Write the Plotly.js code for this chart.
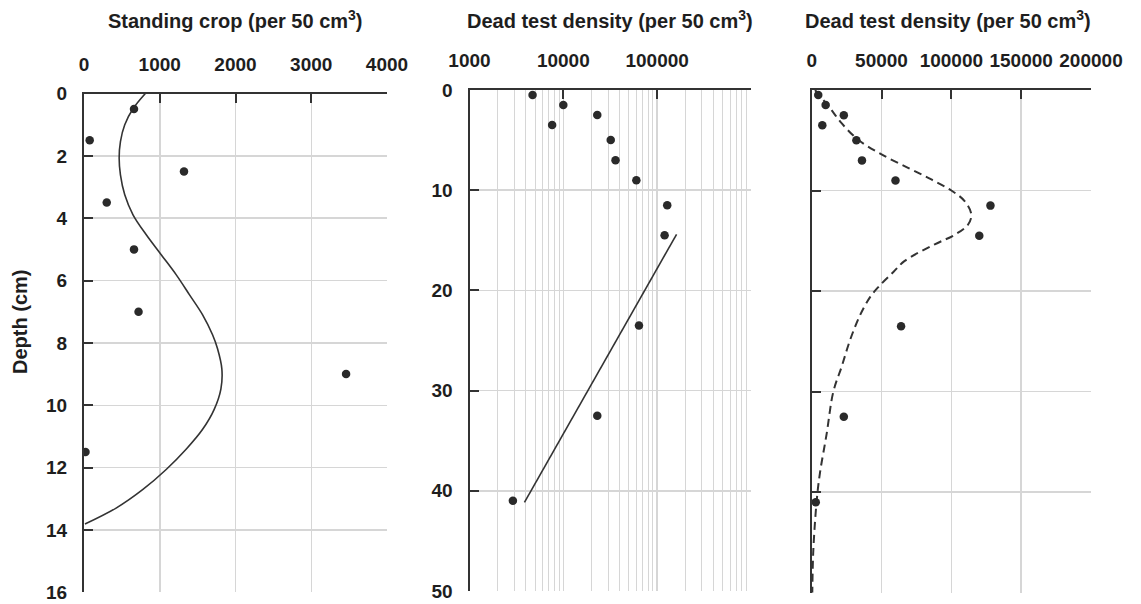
<!DOCTYPE html>
<html>
<head>
<meta charset="utf-8">
<script src="https://cdn.plot.ly/plotly-3.0.1.min.js"></script>
<style>html,body{margin:0;padding:0;background:#fff;}#chart{width:1141px;height:604px;}</style>
</head>
<body>
<div id="chart"></div>
<script>
// Standing crop (panel 1)
const cropDepth = [0.5, 1.5, 2.5, 3.5, 5, 7, 9, 11.5];
const cropValue = [660, 75, 1320, 300, 660, 720, 3460, 20];
// fitted curve for standing crop
const cropFitDepth = [0, 0.49, 1.0, 1.54, 2.07, 2.61, 3.25, 3.89, 4.53, 5.17, 5.81, 6.45, 7.1, 7.74, 8.19, 8.84, 9.48, 10.13, 10.77, 11.41, 12.06, 12.7, 13.29, 13.81];
const cropFitValue = [810, 647, 538, 481, 464, 481, 538, 647, 822, 1019, 1216, 1391, 1566, 1697, 1763, 1820, 1807, 1719, 1566, 1348, 1085, 778, 429, 13];

// Dead test density (panels 2 and 3)
const deadDepth = [0.5, 1.5, 2.5, 3.5, 5, 7, 9, 11.5, 14.5, 23.5, 32.5, 41];
const deadValue = [4700, 10000, 23000, 7600, 32000, 36000, 60000, 128000, 120000, 64000, 23000, 2900];
// log-linear fit (panel 2)
const logFitDepth = [41.15, 14.4];
const logFitValue = [3850, 161000];
// dashed fit (panel 3)
const dashFitDepth = [0, 1.8, 3.3, 4.95, 6.4, 7.75, 8.9, 10, 11.05, 12.4, 13.4, 14.4, 15.35, 17.0, 18.1, 19.6, 20.6, 22.4, 24.9, 27.5, 30.0, 34.2, 38.1, 40.8, 45.8, 50];
const dashFitValue = [2400, 13100, 21400, 33300, 50000, 69000, 85700, 100000, 109500, 114300, 111900, 102400, 88100, 66600, 58500, 47700, 41800, 34600, 27400, 21500, 15500, 10700, 5900, 3600, 1150, 430];

// tick labels
const x1Ticks = [0, 1000, 2000, 3000, 4000];
const x2Ticks = [1000, 10000, 100000, 1000000];
const x2Text = ['1000', '10000', '100000', ' '];
const x3Ticks = [0, 50000, 100000, 150000, 200000];
const x3Text = ['0', '50000', '100000', '150000', '200000'];

const titles = ['Standing crop (per 50 cm<sup>3</sup>)', 'Dead test density (per 50 cm<sup>3</sup>)', 'Dead test density (per 50 cm<sup>3</sup>)'];
const yTitle = 'Depth (cm)';

const W = 1141, H = 604;
const FONT = 'Liberation Sans, Arial, sans-serif';
const TXT = '#1e1e1e';
const AX = '#333333';
const GRID = '#d6d6d6';
const MK = '#2a2a2a';

function px(x) { return x / W; }
function py(y) { return 1 - y / H; }

const marker = {color: MK, size: 8.5};
const traces = [
  {x: cropFitValue, y: cropFitDepth, mode: 'lines', line: {color: AX, width: 1.6, shape: 'spline', smoothing: 1}, xaxis: 'x', yaxis: 'y', hoverinfo: 'skip'},
  {x: cropValue, y: cropDepth, mode: 'markers', marker: marker, xaxis: 'x', yaxis: 'y'},
  {x: logFitValue, y: logFitDepth, mode: 'lines', line: {color: AX, width: 1.6}, xaxis: 'x2', yaxis: 'y2'},
  {x: deadValue, y: deadDepth, mode: 'markers', marker: marker, xaxis: 'x2', yaxis: 'y2'},
  {x: dashFitValue, y: dashFitDepth, mode: 'lines', line: {color: AX, width: 2, dash: '8px,5px', shape: 'spline', smoothing: 1}, xaxis: 'x3', yaxis: 'y3'},
  {x: deadValue, y: deadDepth, mode: 'markers', marker: marker, xaxis: 'x3', yaxis: 'y3'}
];

const tickFont = {family: FONT, size: 19, color: TXT, weight: 'bold'};
function xaxisBase(domain, anchor) {
  return {
    domain: domain, anchor: anchor, side: 'top',
    showline: true, linecolor: AX, linewidth: 2, mirror: false,
    showgrid: true, gridcolor: GRID, gridwidth: 1.5, zeroline: false,
    ticks: 'inside', ticklen: 9, tickwidth: 2, tickcolor: AX,
    tickfont: tickFont, ticklabelstandoff: 13, fixedrange: true
  };
}
function yaxisBase(domain, anchor, range, dtick, labels) {
  return {
    domain: domain, anchor: anchor, range: range, autorange: false,
    showline: true, linecolor: AX, linewidth: 2, mirror: false,
    showgrid: true, gridcolor: GRID, gridwidth: 1.5, zeroline: false,
    ticks: 'inside', ticklen: 9, tickwidth: 2, tickcolor: AX,
    tick0: 0, dtick: dtick, showticklabels: labels,
    tickfont: tickFont, ticklabelstandoff: 11, fixedrange: true
  };
}

// minor log gridlines for panel 2
const minorVals = [];
for (let d = 1000; d < 1000000; d *= 10) {
  for (let k = 2; k <= 9; k++) minorVals.push(k * d);
}

const x1 = Object.assign(xaxisBase([px(84), px(387)], 'y'), {range: [0, 4000], tickvals: x1Ticks});
const x2 = Object.assign(xaxisBase([px(469.5), px(751)], 'y2'), {
  type: 'log', range: [3, 6],
  tickvals: x2Ticks, ticktext: x2Text,
  minor: {tickvals: minorVals, showgrid: true, gridcolor: GRID, gridwidth: 1, ticks: ''}
});
const x3 = Object.assign(xaxisBase([px(811.7), px(1091)], 'y3'), {range: [0, 200000], tickvals: x3Ticks, ticktext: x3Text});

const y1 = yaxisBase([1 - 592.3 / H, 1 - 93.5 / H], 'x', [16, 0], 2, true);
const y2 = yaxisBase([1 - 591 / H, 1 - 90 / H], 'x2', [50, 0], 10, true);
const y3 = yaxisBase([1 - 592.7 / H, 1 - 90 / H], 'x3', [50, 0], 10, false);

const titleCenters = [236, 610, 948];
const annotations = titles.map((t, i) => ({
  text: t, xref: 'paper', yref: 'paper', x: px(titleCenters[i]), y: py(20),
  xanchor: 'center', yanchor: 'middle', showarrow: false,
  font: {family: FONT, size: 20, color: TXT, weight: 'bold'}
}));
annotations.push({
  text: yTitle, xref: 'paper', yref: 'paper', x: px(20), y: py(322),
  xanchor: 'center', yanchor: 'middle', showarrow: false, textangle: -90,
  font: {family: FONT, size: 20, color: TXT, weight: 'bold'}
});

const layout = {
  width: W, height: H,
  margin: {l: 0, r: 0, t: 0, b: 0},
  paper_bgcolor: '#ffffff', plot_bgcolor: '#ffffff',
  showlegend: false,
  font: {family: FONT, color: TXT},
  xaxis: x1, yaxis: y1, xaxis2: x2, yaxis2: y2, xaxis3: x3, yaxis3: y3,
  annotations: annotations
};

Plotly.newPlot('chart', traces, layout, {displayModeBar: false, staticPlot: true});
</script>
</body>
</html>
